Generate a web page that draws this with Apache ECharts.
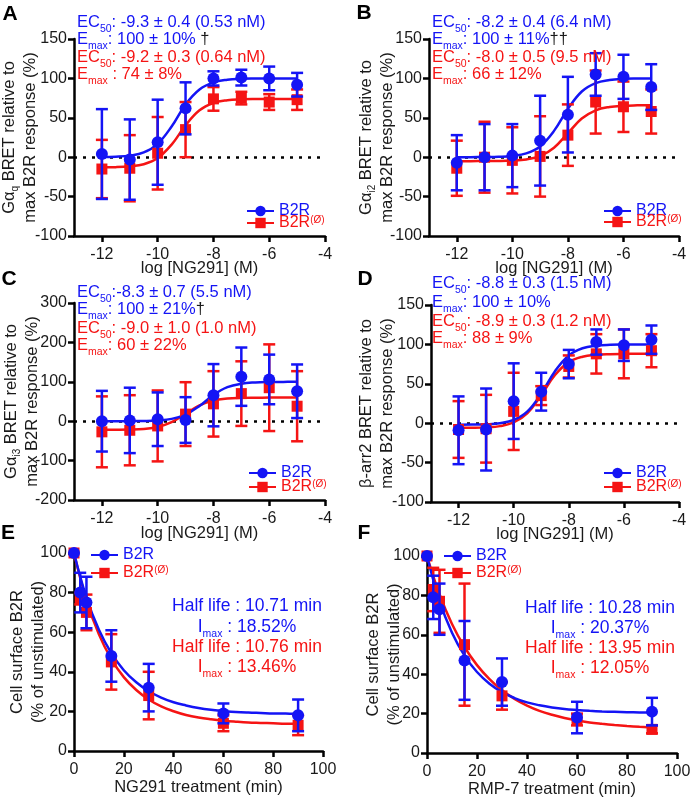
<!DOCTYPE html>
<html>
<head>
<meta charset="utf-8">
<script src="https://cdn.jsdelivr.net/npm/echarts@6/dist/echarts.min.js"></script>
<style>
  html, body { margin: 0; padding: 0; background: #fff; }
  #chart { width: 691px; height: 797px; }
</style>
</head>
<body>
<div id="chart"></div>
<script>
// ---- data ----
const doses = [-12, -11, -10, -9, -8, -7, -6, -5]
const fitDoses = [-12, -11.5, -11, -10.5, -10, -9.5, -9, -8.5, -8, -7.5, -7, -6.5, -6, -5.5, -5]
const doseTicks = [-12, -10, -8, -6, -4]

// A: Gaq
const aBlueMean = [4, -3, 19, 62, 100, 101, 100, 92]
const aBlueErr = [57, 51, 54, 33, 9, 10, 15, 15]
const aRedMean = [-15, -14, 5, 35, 74, 75, 70, 73]
const aRedErr = [37, 42, 46, 35, 15, 8, 10, 13]
const aBlueFit = [0.2, 0.6, 2, 6, 17, 39, 67, 86, 95, 98.4, 99.5, 99.8, 99.9, 100, 100]
const aRedFit = [-12.8, -12.6, -11.6, -8.9, -1.1, 16, 40.4, 59.5, 68.8, 72.3, 73.4, 73.8, 73.9, 74, 74]

// B: Gai2
const bBlueMean = [-7, 0, 2, 21, 54, 105, 102, 89]
const bBlueErr = [35, 42, 40, 57, 48, 27, 28, 29]
const bRedMean = [-14, 0, -4, 1, 28, 70, 64, 58]
const bRedErr = [35, 45, 42, 51, 39, 40, 32, 28]
const bBlueFit = [0, 0.05, 0.2, 0.5, 1.6, 4.8, 13.7, 33.4, 61.3, 83.4, 94.1, 98, 99.4, 99.8, 99.9]
const bRedFit = [-5, -5, -4.9, -4.8, -4.3, -2.8, 1.5, 12.1, 30.5, 49, 59.5, 63.8, 65.3, 65.8, 66]

// C: Gai3
const cBlueMean = [0, 2, 5, 3, 66, 113, 106, 76]
const cBlueErr = [77, 83, 68, 58, 79, 74, 63, 68]
const cRedMean = [-27, -23, -12, 18, 44, 70, 85, 38]
const cRedErr = [90, 89, 90, 81, 83, 82, 110, 89]
const cBlueFit = [0, 0.06, 0.2, 0.6, 2, 5.9, 16.6, 38.7, 66.6, 86.3, 95.2, 98.4, 99.5, 99.8, 99.9]
const cRedFit = [-21.9, -21.7, -21.2, -19.5, -14.5, -2.3, 19, 40.3, 52.5, 57.5, 59.2, 59.7, 59.9, 60, 60]

// D: beta-arr2
const dBlueMean = [-9, -8, 28, 40, 75, 103, 99, 106]
const dBlueErr = [43, 52, 48, 24, 18, 16, 20, 18]
const dRedMean = [-8, -7, 15, 35, 72, 88, 88, 92]
const dRedErr = [36, 43, 49, 12, 14, 25, 31, 21]
const dBlueFit = [-1.9, -1.8, -1.4, 0, 4.1, 15, 37.5, 66, 86, 95.1, 98.4, 99.5, 99.8, 99.9, 100]
const dRedFit = [-5.9, -5.8, -5.3, -3.7, 0.9, 12.8, 35.6, 61.1, 77.5, 84.4, 86.8, 87.6, 87.9, 88, 88]

// E / F: internalisation time course
const times = [0, 2.5, 5, 15, 30, 60, 90]
const fitTimes = [0, 5, 10, 15, 20, 25, 30, 35, 40, 45, 50, 55, 60, 65, 70, 75, 80, 85, 90]
const timeTicks = [0, 20, 40, 60, 80, 100]

const eBlueMean = [100, 80, 75, 48, 32, 19, 18]
const eBlueErr = [0, 10, 13, 13, 12, 5, 8]
const eRedMean = [100, 77, 70, 45, 28, 14, 13]
const eRedErr = [0, 3, 9, 14, 12, 4, 5]
const eBlueFit = [100, 77.5, 61.2, 49.4, 40.8, 34.7, 30.2, 27.0, 24.6, 23.0, 21.7, 20.8, 20.2, 19.7, 19.4, 19.2, 19.0, 18.9, 18.8]
const eRedFit = [100, 76.2, 58.9, 46.4, 37.3, 30.8, 26.0, 22.5, 20.1, 18.2, 16.9, 16.0, 15.3, 14.8, 14.4, 14.2, 14.0, 13.8, 13.7]

const fBlueMean = [100, 79, 73, 47, 36, 18, 21]
const fBlueErr = [0, 11, 13, 20, 12, 8, 7]
const fRedMean = [100, 83, 77, 55, 29, 17, 12]
const fRedErr = [0, 11, 16, 31, 7, 3, 2]
const fBlueFit = [100, 77.2, 61.0, 49.4, 41.1, 35.2, 30.9, 27.9, 25.7, 24.2, 23.1, 22.3, 21.8, 21.4, 21.1, 20.9, 20.7, 20.6, 20.5]
const fRedFit = [100, 80.6, 65.5, 53.8, 44.6, 37.5, 31.8, 27.5, 24.1, 21.4, 19.4, 17.8, 16.5, 15.5, 14.8, 14.2, 13.7, 13.3, 13.0]

// ---- styling ----
const BLUE = '#1414f5'
const RED = '#f51414'
const INK = '#1a1a1a'
const FONT = '"Liberation Sans", Arial, sans-serif'

const panels = [
  {
    letter: 'A', letterPos: [10, 14],
    grid: { left: 74, top: 39, width: 251, height: 197 },
    x: doses, fitX: fitDoses, xMin: -13, xMax: -4, xTicks: doseTicks,
    yMin: -100, yMax: 150, yStep: 50, zero: true,
    xName: 'log [NG291] (M)', xNameGap: 24,
    yName: 'G{n|α}{sub|q} BRET relative to\nmax B2R response (%)', yNameGap: 33,
    blue: [aBlueMean, aBlueErr, aBlueFit], red: [aRedMean, aRedErr, aRedFit],
    legend: { left: 246, blueY: 211, redY: 223 },
    notes: { x: 77, align: 'left', size: 16.5, ys: [22, 39, 57, 74], lines: [
      'EC{s|50}: -9.3 ± 0.4 (0.53 nM)', 'E{s|max}: 100 ± 10% {d|†}',
      'EC{s|50}: -9.2 ± 0.3 (0.64 nM)', 'E{s|max} : 74 ± 8%'] }
  },
  {
    letter: 'B', letterPos: [364, 13],
    grid: { left: 429, top: 39, width: 250, height: 197 },
    x: doses, fitX: fitDoses, xMin: -13, xMax: -4, xTicks: doseTicks,
    yMin: -100, yMax: 150, yStep: 50, zero: true,
    xName: 'log [NG291] (M)', xNameGap: 24,
    yName: 'G{n|α}{sub|i2} BRET relative to\nmax B2R response (%)', yNameGap: 31,
    blue: [bBlueMean, bBlueErr, bBlueFit], red: [bRedMean, bRedErr, bRedFit],
    legend: { left: 603, blueY: 211, redY: 222 },
    notes: { x: 432, align: 'left', size: 16.5, ys: [22, 39, 57, 74], lines: [
      'EC{s|50}: -8.2 ± 0.4 (6.4 nM)', 'E{s|max}: 100 ± 11%{d|††}',
      'EC{s|50}: -8.0 ± 0.5 (9.5 nM)', 'E{s|max}: 66 ± 12%'] }
  },
  {
    letter: 'C', letterPos: [9, 279],
    grid: { left: 74, top: 303, width: 251, height: 197 },
    x: doses, fitX: fitDoses, xMin: -13, xMax: -4, xTicks: doseTicks,
    yMin: -200, yMax: 300, yStep: 100, zero: true,
    xName: 'log [NG291] (M)', xNameGap: 25,
    yName: 'G{n|α}{sub|i3} BRET relative to\nmax B2R response (%)', yNameGap: 31,
    blue: [cBlueMean, cBlueErr, cBlueFit], red: [cRedMean, cRedErr, cRedFit],
    legend: { left: 248, blueY: 473, redY: 487 },
    notes: { x: 77, align: 'left', size: 16.5, ys: [292, 309, 328, 345], lines: [
      'EC{s|50}:-8.3 ± 0.7 (5.5 nM)', 'E{s|max}: 100 ± 21%{d|†}',
      'EC{s|50}: -9.0 ± 1.0 (1.0 nM)', 'E{s|max}: 60 ± 22%'] }
  },
  {
    letter: 'D', letterPos: [365, 279],
    grid: { left: 431, top: 305, width: 248, height: 197 },
    x: doses, fitX: fitDoses, xMin: -13, xMax: -4, xTicks: doseTicks,
    yMin: -100, yMax: 150, yStep: 50, zero: true,
    xName: 'log [NG291] (M)', xNameGap: 24,
    yName: 'β-arr2 BRET relative to\nmax B2R response (%)', yNameGap: 33,
    blue: [dBlueMean, dBlueErr, dBlueFit], red: [dRedMean, dRedErr, dRedFit],
    legend: { left: 603, blueY: 473, redY: 487 },
    notes: { x: 432, align: 'left', size: 16.5, ys: [283, 302, 321, 338], lines: [
      'EC{s|50}: -8.8 ± 0.3 (1.5 nM)', 'E{s|max}: 100 ± 10%',
      'EC{s|50}: -8.9 ± 0.3 (1.2 nM)', 'E{s|max}: 88 ± 9%'] }
  },
  {
    letter: 'E', letterPos: [8, 533],
    grid: { left: 74, top: 553, width: 249, height: 198 },
    x: times, fitX: fitTimes, xMin: 0, xMax: 100, xTicks: timeTicks,
    yMin: 0, yMax: 100, yStep: 20, zero: false,
    xName: 'NG291 treatment (min)', xNameGap: 28,
    yName: 'Cell surface B2R\n(% of unstimulated)', yNameGap: 25,
    blue: [eBlueMean, eBlueErr, eBlueFit], red: [eRedMean, eRedErr, eRedFit],
    legend: { left: 90, blueY: 555, redY: 573 },
    notes: { x: 247, align: 'center', size: 17.5, ys: [606, 627, 647, 667], lines: [
      'Half life : 10.71 min', 'I{s|max} : 18.52%',
      'Half life : 10.76 min', 'I{s|max} : 13.46%'] }
  },
  {
    letter: 'F', letterPos: [364, 533],
    grid: { left: 427, top: 556, width: 250, height: 197 },
    x: times, fitX: fitTimes, xMin: 0, xMax: 100, xTicks: timeTicks,
    yMin: 0, yMax: 100, yStep: 20, zero: false,
    xName: 'RMP-7 treatment (min)', xNameGap: 28,
    yName: 'Cell surface B2R\n(% of unstimulated)', yNameGap: 22,
    blue: [fBlueMean, fBlueErr, fBlueFit], red: [fRedMean, fRedErr, fRedFit],
    legend: { left: 443, blueY: 556, redY: 573 },
    notes: { x: 600, align: 'center', size: 17.5, ys: [608, 628, 648, 668], lines: [
      'Half life : 10.28 min', 'I{s|max} : 20.37%',
      'Half life : 13.95 min', 'I{s|max} : 12.05%'] }
  }
]

const axisLine = { show: true, onZero: false, lineStyle: { color: '#000', width: 2.5 } }
const axisTick = { show: true, inside: false, length: 6, lineStyle: { color: '#000', width: 2.5 } }

const xAxes = panels.map((p, i) => ({
  gridIndex: i, type: 'value', min: p.xMin, max: p.xMax,
  axisLine, axisTick: { ...axisTick, customValues: p.xTicks },
  axisLabel: { fontSize: 16, color: INK, fontFamily: FONT, margin: 11, customValues: p.xTicks },
  splitLine: { show: false },
  name: p.xName, nameLocation: 'middle', nameGap: p.xNameGap, nameMoveOverlap: false,
  nameTextStyle: { fontSize: 16.5, color: INK, fontFamily: FONT }
}))

const yAxes = panels.map((p, i) => ({
  gridIndex: i, type: 'value', min: p.yMin, max: p.yMax, interval: p.yStep,
  axisLine, axisTick,
  axisLabel: { fontSize: 16, color: INK, fontFamily: FONT, margin: 7 },
  splitLine: { show: false },
  name: p.yName, nameLocation: 'middle', nameGap: p.yNameGap, nameMoveOverlap: false,
  nameTextStyle: {
    fontSize: 16.5, color: INK, fontFamily: FONT, lineHeight: 21,
    rich: {
      n: { fontSize: 16.5, color: INK, fontFamily: FONT, lineHeight: 21 },
      sub: { fontSize: 10, color: INK, fontFamily: FONT, lineHeight: 8, verticalAlign: 'bottom' }
    }
  }
}))

function fitSeries(i, xs, ys, color, z) {
  return {
    type: 'line', xAxisIndex: i, yAxisIndex: i, z, silent: true,
    data: xs.map((x, k) => [x, ys[k]]),
    symbol: 'none', smooth: 0.4,
    lineStyle: { color, width: 2.5 }
  }
}

function pointSeries(i, xs, ys, color, symbol, size, z) {
  return {
    type: 'scatter', xAxisIndex: i, yAxisIndex: i, z, silent: true,
    data: xs.map((x, k) => [x, ys[k]]),
    symbol, symbolSize: size,
    itemStyle: { color, opacity: 1 }
  }
}

function errSeries(i, xs, mean, err, color, z) {
  const data = []
  xs.forEach((x, k) => {
    if (err[k] > 0) data.push([x, mean[k] - err[k], mean[k] + err[k]])
  })
  return {
    type: 'custom', xAxisIndex: i, yAxisIndex: i, z, silent: true, data,
    renderItem: (params, api) => {
      const x = api.value(0)
      const top = api.coord([x, api.value(2)])
      const bot = api.coord([x, api.value(1)])
      const w = 6
      const style = { stroke: color, lineWidth: 2.5 }
      return {
        type: 'group',
        children: [
          { type: 'line', shape: { x1: top[0], y1: top[1], x2: bot[0], y2: bot[1] }, style },
          { type: 'line', shape: { x1: top[0] - w, y1: top[1], x2: top[0] + w, y2: top[1] }, style },
          { type: 'line', shape: { x1: bot[0] - w, y1: bot[1], x2: bot[0] + w, y2: bot[1] }, style }
        ]
      }
    }
  }
}

const series = [
  // legend icons only
  { type: 'line', name: 'B2R', data: [], symbol: 'circle', itemStyle: { color: BLUE }, lineStyle: { color: BLUE, width: 3 } },
  { type: 'line', name: 'B2R(Ø)', data: [], symbol: 'rect', itemStyle: { color: RED }, lineStyle: { color: RED, width: 3 } }
]

panels.forEach((p, i) => {
  const redFit = fitSeries(i, p.fitX, p.red[2], RED, 3)
  const blueFit = fitSeries(i, p.fitX, p.blue[2], BLUE, 4)
  if (p.zero) {
    redFit.markLine = {
      silent: true, symbol: 'none', label: { show: false }, z: 1,
      lineStyle: { color: '#000', width: 2.5, type: [3, 6] },
      data: [{ yAxis: 0 }]
    }
  }
  series.push(
    redFit, blueFit,
    errSeries(i, p.x, p.red[0], p.red[1], RED, 5),
    pointSeries(i, p.x, p.red[0], RED, 'rect', 11, 6),
    errSeries(i, p.x, p.blue[0], p.blue[1], BLUE, 7),
    pointSeries(i, p.x, p.blue[0], BLUE, 'circle', 12, 8)
  )
})

const legends = []
panels.forEach(p => {
  legends.push({
    left: p.legend.left, top: p.legend.blueY - 8, padding: 0, selectedMode: false,
    itemWidth: 27, itemHeight: 13, data: ['B2R'],
    textStyle: { color: BLUE, fontSize: 16, fontFamily: FONT, lineHeight: 16 }
  })
  legends.push({
    left: p.legend.left, top: p.legend.redY - 8, padding: 0, selectedMode: false,
    itemWidth: 27, itemHeight: 13, data: ['B2R(Ø)'],
    formatter: () => '{n|B2R}{p|(Ø)}',
    textStyle: {
      color: RED, fontSize: 16, fontFamily: FONT, lineHeight: 16,
      rich: {
        n: { color: RED, fontSize: 16, fontFamily: FONT, lineHeight: 16 },
        p: { color: RED, fontSize: 10, fontFamily: FONT, lineHeight: 9, verticalAlign: 'top' }
      }
    }
  })
})

function noteText(x, y, text, color, align, size) {
  return {
    type: 'text', x, y, z: 100, silent: true,
    style: {
      text, fill: color, fontSize: size, fontFamily: FONT, lineHeight: 26,
      align, verticalAlign: 'middle', textAlign: align, textVerticalAlign: 'middle',
      rich: {
        s: { fontSize: 10.5, fontFamily: FONT, fill: color, color, lineHeight: 10, verticalAlign: 'bottom' },
        d: { fontSize: size, fontFamily: FONT, fill: INK, color: INK, lineHeight: 26 }
      }
    }
  }
}

const graphics = []
panels.forEach(p => {
  graphics.push({
    type: 'text', x: p.letterPos[0], y: p.letterPos[1], z: 100, silent: true,
    style: {
      text: p.letter, fill: '#000', fontSize: 21, fontWeight: 'bold', fontFamily: FONT,
      align: 'center', verticalAlign: 'middle', textAlign: 'center', textVerticalAlign: 'middle'
    }
  })
  p.notes.lines.forEach((line, k) => {
    const color = k < 2 ? BLUE : RED
    graphics.push(noteText(p.notes.x, p.notes.ys[k], line, color, p.notes.align, p.notes.size))
  })
})

const chart = echarts.init(document.getElementById('chart'))
chart.setOption({
  animation: false,
  backgroundColor: '#fff',
  textStyle: { fontFamily: FONT },
  grid: panels.map(p => ({ ...p.grid, outerBoundsMode: 'none', containLabel: false })),
  xAxis: xAxes,
  yAxis: yAxes,
  legend: legends,
  graphic: graphics,
  series
})
</script>
</body>
</html>
